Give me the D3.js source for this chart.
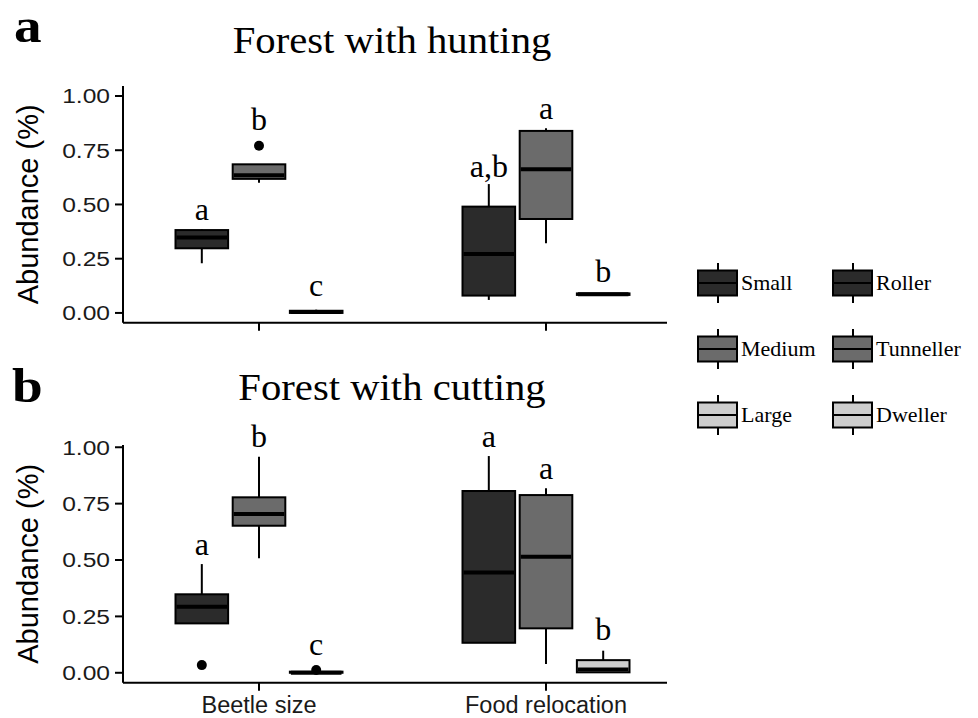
<!DOCTYPE html>
<html>
<head>
<meta charset="utf-8">
<script src="https://cdn.jsdelivr.net/npm/d3@7"></script>
<style>
  body { margin: 0; background: #fff; }
  text { fill: #000; }
</style>
</head>
<body>
<div id="chart"></div>
<script>
// categories and classes
var groups = ["Beetle size", "Food relocation"];
var sizeClasses = ["Small", "Medium", "Large"];
var foodClasses = ["Roller", "Tunneller", "Dweller"];
var yTicks = [0, 0.25, 0.5, 0.75, 1];

// Forest with hunting: Small, Medium, Large, Roller, Tunneller, Dweller
var huntLow  = [0.229, 0.600, 0.000, 0.060, 0.321, 0.083];
var huntQ1   = [0.298, 0.618, 0.000, 0.080, 0.433, 0.083];
var huntMed  = [0.348, 0.635, 0.004, 0.272, 0.662, 0.086];
var huntQ3   = [0.382, 0.685, 0.010, 0.490, 0.839, 0.090];
var huntHigh = [0.385, 0.685, 0.015, 0.594, 0.851, 0.090];
var huntOut  = [[], [0.771], [], [], [], []];
var huntLetters  = ["a", "b", "c", "a,b", "a", "b"];
var huntLetterAt = [0.428, 0.843, 0.078, 0.628, 0.892, 0.144];

// Forest with cutting
var cutLow  = [0.219, 0.508, 0.000, 0.133, 0.039, 0.000];
var cutQ1   = [0.219, 0.652, 0.000, 0.133, 0.197, 0.002];
var cutMed  = [0.293, 0.704, 0.000, 0.445, 0.515, 0.014];
var cutQ3   = [0.348, 0.778, 0.005, 0.806, 0.788, 0.056];
var cutHigh = [0.482, 0.958, 0.005, 0.961, 0.818, 0.098];
var cutOut  = [[0.034], [], [0.012], [], [], []];
var cutLetters  = ["a", "b", "c", "a", "a", "b"];
var cutLetterAt = [0.522, 1.000, 0.079, 1.002, 0.858, 0.145];

var fills = ["#2b2b2b", "#6b6b6b", "#cdcdcd"];

var svg = d3.select("#chart").append("svg")
    .attr("width", 978)
    .attr("height", 718);

var sans = "'Liberation Sans', Arial, sans-serif",
    serif = "'Liberation Serif', 'Times New Roman', serif";

var axisLeft = 123, axisRight = 667;

// category centres and dodge within a category
var x = d3.scalePoint().domain(groups).range([259, 546]);
var dodge = d3.scaleBand().domain([0, 1, 2]).range([-83.5, 83.5]).paddingInner(0.08);
var boxW = dodge.bandwidth();

function buildRows(low, q1, med, q3, high, out, letters, letterAt) {
    return low.map(function(d, i) {
        return {
            group: groups[Math.floor(i / 3)],
            k: i % 3,
            low: d, q1: q1[i], med: med[i], q3: q3[i], high: high[i],
            out: out[i], letter: letters[i], letterAt: letterAt[i]
        };
    });
}

function panel(opt) {
    var y = d3.scaleLinear().domain(opt.domain).range([opt.bottom, opt.top]);
    var g = svg.append("g");

    // panel tag and title
    g.append("text")
        .attr("transform", "translate(" + opt.tagX + "," + opt.tagY + ") scale(1.15,1)")
        .style("font-family", serif).style("font-weight", "bold").style("font-size", "48px")
        .text(opt.tag);
    g.append("text")
        .attr("transform", "translate(392," + opt.titleY + ") scale(1.1,1)")
        .attr("text-anchor", "middle")
        .style("font-family", serif).style("font-size", "37px")
        .text(opt.title);

    // y axis
    g.append("line")
        .attr("x1", axisLeft).attr("x2", axisLeft)
        .attr("y1", opt.top).attr("y2", opt.bottom)
        .attr("stroke", "#000").attr("stroke-width", 2);
    var yt = g.selectAll("g.ytick").data(yTicks).enter().append("g")
        .attr("class", "ytick")
        .attr("transform", function(d) { return "translate(0," + y(d) + ")"; });
    yt.append("line")
        .attr("x1", axisLeft - 8).attr("x2", axisLeft)
        .attr("stroke", "#000").attr("stroke-width", 2);
    yt.append("text")
        .attr("transform", "translate(110,0) scale(1.2,1)")
        .attr("dy", "0.36em")
        .attr("text-anchor", "end")
        .style("font-family", sans).style("font-size", "20.5px").style("fill", "#1a1a1a")
        .text(d3.format(".2f"));

    g.append("text")
        .attr("transform", "translate(38," + (opt.top + opt.bottom) / 2 + ") rotate(-90)")
        .attr("text-anchor", "middle")
        .style("font-family", sans).style("font-size", "29px")
        .text("Abundance (%)");

    // x axis
    g.append("line")
        .attr("x1", axisLeft).attr("x2", axisRight)
        .attr("y1", opt.bottom).attr("y2", opt.bottom)
        .attr("stroke", "#000").attr("stroke-width", 2);
    var xt = g.selectAll("g.xtick").data(groups).enter().append("g")
        .attr("transform", function(d) { return "translate(" + x(d) + "," + opt.bottom + ")"; });
    xt.append("line").attr("y2", 8).attr("stroke", "#000").attr("stroke-width", 2);
    if (opt.xLabels) {
        xt.append("text")
            .attr("y", 30)
            .attr("text-anchor", "middle")
            .style("font-family", sans).style("font-size", "23.5px").style("fill", "#1a1a1a")
            .text(function(d) { return d; });
    }

    // boxes
    var box = g.selectAll("g.box").data(opt.rows).enter().append("g")
        .attr("class", "box")
        .attr("transform", function(d) {
            return "translate(" + (x(d.group) + dodge(d.k) + boxW / 2) + ",0)";
        });

    box.append("line")
        .attr("y1", function(d) { return y(d.high); })
        .attr("y2", function(d) { return y(d.low); })
        .attr("stroke", "#000").attr("stroke-width", 2);
    box.append("rect")
        .attr("x", -boxW / 2).attr("width", boxW)
        .attr("y", function(d) { return y(d.q3); })
        .attr("height", function(d) { return Math.max(0.5, y(d.q1) - y(d.q3)); })
        .attr("fill", function(d) { return fills[d.k]; })
        .attr("stroke", "#000").attr("stroke-width", 2);
    box.append("line")
        .attr("x1", -boxW / 2 + 1).attr("x2", boxW / 2 - 1)
        .attr("y1", function(d) { return y(d.med); })
        .attr("y2", function(d) { return y(d.med); })
        .attr("stroke", "#000").attr("stroke-width", 4);
    box.selectAll("circle").data(function(d) { return d.out; }).enter().append("circle")
        .attr("cy", function(v) { return y(v); })
        .attr("r", 5)
        .attr("fill", "#000");
    box.append("text")
        .attr("y", function(d) { return y(d.letterAt); })
        .attr("text-anchor", "middle")
        .style("font-family", serif).style("font-size", "32px")
        .text(function(d) { return d.letter; });
}

panel({
    tag: "a", tagX: 14, tagY: 42,
    title: "Forest with hunting", titleY: 53,
    domain: [-0.045, 1.046], top: 86, bottom: 322.7,
    xLabels: false,
    rows: buildRows(huntLow, huntQ1, huntMed, huntQ3, huntHigh, huntOut, huntLetters, huntLetterAt)
});

panel({
    tag: "b", tagX: 12, tagY: 402,
    title: "Forest with cutting", titleY: 400,
    domain: [-0.044, 1.01], top: 445, bottom: 682.7,
    xLabels: true,
    rows: buildRows(cutLow, cutQ1, cutMed, cutQ3, cutHigh, cutOut, cutLetters, cutLetterAt)
});

// legend: two columns of box keys
var legendCols = [sizeClasses, foodClasses];
var colX = [698, 833];
var rowY = [283, 349, 415];
legendCols.forEach(function(labels, c) {
    var item = svg.selectAll("g.leg" + c).data(labels).enter().append("g")
        .attr("class", "leg" + c)
        .attr("transform", function(d, i) { return "translate(" + colX[c] + "," + rowY[i] + ")"; });
    item.append("line")
        .attr("x1", 20).attr("x2", 20).attr("y1", -20).attr("y2", 20)
        .attr("stroke", "#000").attr("stroke-width", 2);
    item.append("rect")
        .attr("x", 0).attr("y", -12.5).attr("width", 39).attr("height", 25)
        .attr("fill", function(d, i) { return fills[i]; })
        .attr("stroke", "#000").attr("stroke-width", 2);
    item.append("line")
        .attr("x1", 0).attr("x2", 39)
        .attr("stroke", "#000").attr("stroke-width", 2);
    item.append("text")
        .attr("x", 43).attr("dy", "0.33em")
        .style("font-family", serif).style("font-size", "22px")
        .text(function(d) { return d; });
});
</script>
</body>
</html>
